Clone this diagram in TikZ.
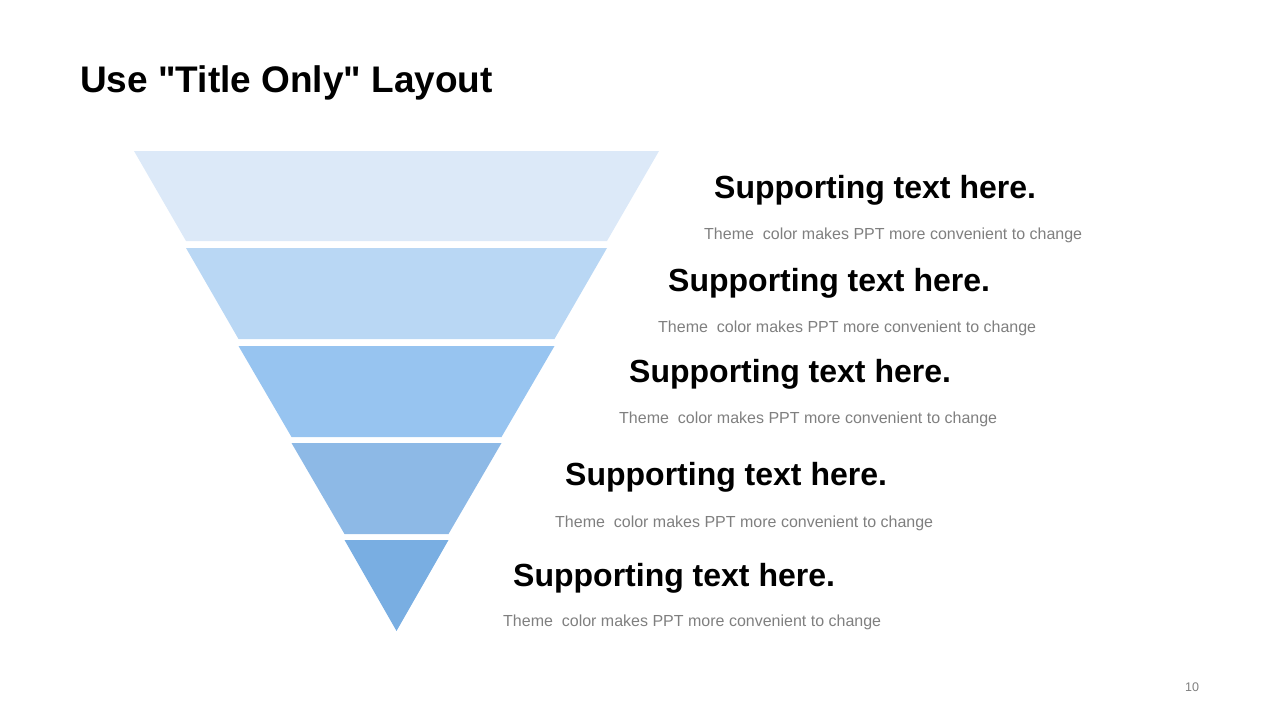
\documentclass[tikz,border=0pt]{standalone}
\usepackage{fontspec}
\setmainfont{Liberation Sans}
\newfontfamily\plainsans{Liberation Sans}
\usetikzlibrary{math}
\definecolor{funnelA}{RGB}{220,233,248}
\definecolor{funnelB}{RGB}{185,215,244}
\definecolor{funnelC}{RGB}{151,196,240}
\definecolor{funnelD}{RGB}{141,185,230}
\definecolor{funnelE}{RGB}{121,174,226}
\definecolor{subgray}{RGB}{127,127,127}

\begin{document}
\begin{tikzpicture}[x=1pt,y=-1pt,
  headtext/.style={anchor=base west,inner sep=0,font=\fontsize{32}{36}\selectfont\bfseries},
  subtext/.style={anchor=base west,inner sep=0,text=subgray,font=\fontsize{16}{19}\selectfont}]
\tikzmath{
\cx=396.5;
}
\useasboundingbox (0,0) rectangle (1280,720);

\node[anchor=base west,inner sep=0,font=\plainsans\fontsize{37}{42}\selectfont\bfseries] (title) at (80,92) {Use "Title Only" Layout};

% funnel bands: top y / bottom y / top half width / bottom half width / colour
\foreach \a/\b/\wa/\wb/\c in {151/241/262.5/210.5/funnelA,248/339/210.5/158/funnelB,
    346/437/158/105/funnelC,443/534/105/52/funnelD,540/631/52/0/funnelE}{
  \fill[color=\c] ({\cx-\wa},\a) -- ({\cx+\wa},\a) -- ({\cx+\wb},\b) -- ({\cx-\wb},\b) -- cycle;
}

% labels
\node[headtext] (head1) at (714,198) {Supporting text here.};
\node[subtext] (sub1) at (704,239.5) {Theme\ \ color makes PPT more convenient to change};
\node[headtext] (head2) at (668,291) {Supporting text here.};
\node[subtext] (sub2) at (658,332.5) {Theme\ \ color makes PPT more convenient to change};
\node[headtext] (head3) at (629,382) {Supporting text here.};
\node[subtext] (sub3) at (619,423.5) {Theme\ \ color makes PPT more convenient to change};
\node[headtext] (head4) at (565,485) {Supporting text here.};
\node[subtext] (sub4) at (555,527.5) {Theme\ \ color makes PPT more convenient to change};
\node[headtext] (head5) at (513,586) {Supporting text here.};
\node[subtext] (sub5) at (503,626.5) {Theme\ \ color makes PPT more convenient to change};

\node[text=subgray,inner sep=0,font=\fontsize{12.5}{14}\selectfont] (pagenum) at (1192,687) {10};
\end{tikzpicture}
\end{document}
